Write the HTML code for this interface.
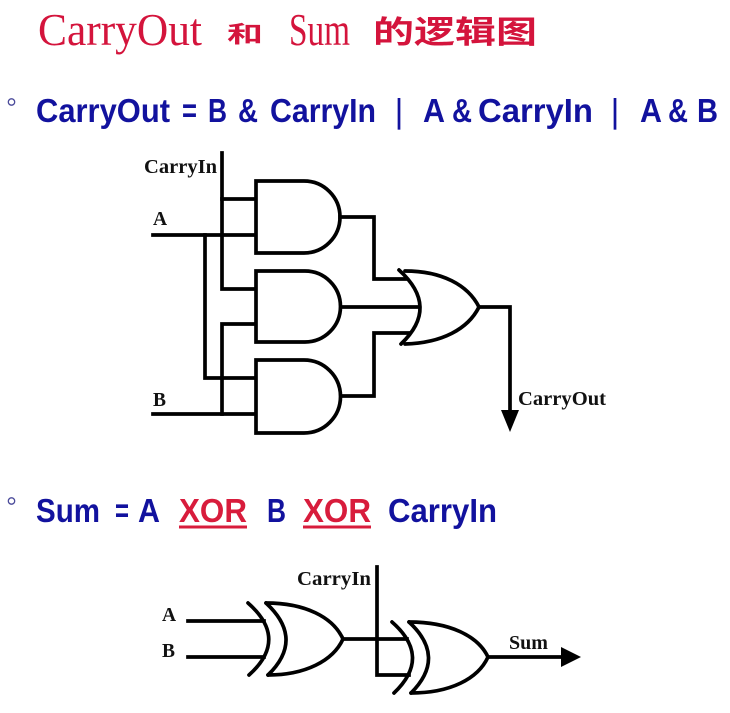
<!DOCTYPE html>
<html>
<head>
<meta charset="utf-8">
<style>
  html,body{margin:0;padding:0;background:#fff;}
  svg{display:block;}
  .t{font-family:"Liberation Sans",Arial,sans-serif;font-weight:bold;font-size:33px;fill:#12129e;}
  .x{font-family:"Liberation Sans",Arial,sans-serif;font-weight:bold;font-size:33px;fill:#d81c3c;}
  .lb{font-family:"Liberation Serif","Times New Roman",serif;font-weight:bold;font-size:19.5px;fill:#111;}
  .w{fill:none;stroke:#000;stroke-width:3.7;stroke-linejoin:miter;stroke-linecap:square;}
  .g{fill:#fff;stroke:#000;stroke-width:3.7;}
  .c{fill:none;stroke:#000;stroke-width:3.7;stroke-linecap:round;}
</style>
</head>
<body>
<svg width="730" height="713" viewBox="0 0 730 713" xmlns="http://www.w3.org/2000/svg">
  <rect width="730" height="713" fill="#fff"/>

  <!-- Title -->
  <text x="38" y="45" font-family="Liberation Serif, serif" font-size="46" fill="#d4143c" textLength="164" lengthAdjust="spacingAndGlyphs">CarryOut</text>
  <text x="227" y="42" font-family="Liberation Sans, Noto Sans CJK SC, sans-serif" font-weight="bold" font-size="23" fill="#d4143c" textLength="36" lengthAdjust="spacingAndGlyphs">和</text>
  <text x="289" y="45" font-family="Liberation Serif, serif" font-size="46" fill="#d4143c" textLength="61" lengthAdjust="spacingAndGlyphs">Sum</text>
  <text x="373" y="43" font-family="Liberation Sans, Noto Sans CJK SC, sans-serif" font-weight="bold" font-size="31" fill="#d4143c" textLength="164" lengthAdjust="spacingAndGlyphs">的逻辑图</text>

  <!-- Line 1 -->
  <circle cx="11.5" cy="102" r="3.2" fill="none" stroke="#4a4a9a" stroke-width="1.3"/>
  <text class="t" x="36" y="122" textLength="134" lengthAdjust="spacingAndGlyphs">CarryOut</text>
  <text class="t" x="182" y="122" textLength="15" lengthAdjust="spacingAndGlyphs">=</text>
  <text class="t" x="208" y="122" textLength="19" lengthAdjust="spacingAndGlyphs">B</text>
  <text class="t" x="238" y="122" textLength="20" lengthAdjust="spacingAndGlyphs">&amp;</text>
  <text class="t" x="270" y="122" textLength="106" lengthAdjust="spacingAndGlyphs">CarryIn</text>
  <text class="t" x="396" y="122" textLength="6" lengthAdjust="spacingAndGlyphs">|</text>
  <text class="t" x="423" y="122" textLength="22" lengthAdjust="spacingAndGlyphs">A</text>
  <text class="t" x="452" y="122" textLength="20" lengthAdjust="spacingAndGlyphs">&amp;</text>
  <text class="t" x="478" y="122" textLength="115" lengthAdjust="spacingAndGlyphs">CarryIn</text>
  <text class="t" x="612" y="122" textLength="6" lengthAdjust="spacingAndGlyphs">|</text>
  <text class="t" x="640" y="122" textLength="22" lengthAdjust="spacingAndGlyphs">A</text>
  <text class="t" x="668" y="122" textLength="20" lengthAdjust="spacingAndGlyphs">&amp;</text>
  <text class="t" x="697" y="122" textLength="21" lengthAdjust="spacingAndGlyphs">B</text>

  <!-- Top circuit wires -->
  <path class="w" d="M222,153 V289 H256"/>
  <path class="w" d="M222,199 H256"/>
  <path class="w" d="M153,235 H256"/>
  <path class="w" d="M205,235 V378 H256"/>
  <path class="w" d="M153,414 H256"/>
  <path class="w" d="M222,414 V324 H256"/>

  <!-- AND gates -->
  <path class="g" d="M256,181 H304 A36,36 0 0 1 304,253 H256 Z"/>
  <path class="g" d="M256,271 H305 A35.5,35.5 0 0 1 305,342 H256 Z"/>
  <path class="g" d="M256,360 H304 A36.5,36.5 0 0 1 304,433 H256 Z"/>

  <!-- AND outputs to OR -->
  <path class="w" d="M340,217 H374 V279 H408"/>
  <path class="w" d="M341,307 H418"/>
  <path class="w" d="M341,396 H374 V333 H410"/>

  <!-- OR gate -->
  <path d="M401,271 C440,271 468,285 479,307 C468,329 440,343 402,344 Q440,307 401,271 Z" fill="#fff" stroke="none"/>
  <path class="c" d="M405,271 C442,271 468,285 479,307 C468,329 442,343 405,344"/>
  <path class="c" d="M399,270 Q440,307 401,344"/>

  <!-- CarryOut output -->
  <path class="w" d="M479,307 H510 V412"/>
  <polygon points="501,410 519,410 510,432" fill="#000"/>

  <!-- Top labels -->
  <text class="lb" x="144" y="173" textLength="73" lengthAdjust="spacingAndGlyphs">CarryIn</text>
  <text class="lb" x="153" y="225">A</text>
  <text class="lb" x="153" y="406">B</text>
  <text class="lb" x="518" y="405" textLength="88" lengthAdjust="spacingAndGlyphs">CarryOut</text>

  <!-- Line 2 -->
  <circle cx="11.5" cy="501" r="3.2" fill="none" stroke="#4a4a9a" stroke-width="1.3"/>
  <text class="t" x="36" y="522" textLength="64" lengthAdjust="spacingAndGlyphs">Sum</text>
  <text class="t" x="115" y="522" textLength="14" lengthAdjust="spacingAndGlyphs">=</text>
  <text class="t" x="138" y="522" textLength="22" lengthAdjust="spacingAndGlyphs">A</text>
  <text class="x" x="179" y="522" textLength="68" lengthAdjust="spacingAndGlyphs">XOR</text>
  <rect x="179" y="525.5" width="68" height="3" fill="#d81c3c"/>
  <text class="t" x="267" y="522" textLength="19" lengthAdjust="spacingAndGlyphs">B</text>
  <text class="x" x="303" y="522" textLength="68" lengthAdjust="spacingAndGlyphs">XOR</text>
  <rect x="303" y="525.5" width="68" height="3" fill="#d81c3c"/>
  <text class="t" x="388" y="522" textLength="109" lengthAdjust="spacingAndGlyphs">CarryIn</text>

  <!-- Bottom circuit -->
  <path class="w" d="M188,621 H264"/>
  <path class="w" d="M188,657 H264"/>

  <!-- XOR1 -->
  <path d="M265,603 C305,603 333,617 343,639 C333,661 305,675 267,675 Q305,639 265,603 Z" fill="#fff" stroke="none"/>
  <path class="c" d="M248,603 Q289,639 249,675"/>
  <path class="c" d="M266,603 C305,603 333,617 343,639 C333,661 305,675 268,675"/>
  <path class="c" d="M266,603 Q305,639 268,675"/>

  <!-- CarryIn bottom -->
  <path class="w" d="M377,567 V675 H409"/>
  <path class="w" d="M343,639 H407"/>

  <!-- XOR2 -->
  <path d="M409,622 C450,622 478,636 488,657 C478,679 450,693 411,693 Q447,657 409,622 Z" fill="#fff" stroke="none"/>
  <path class="c" d="M392,622 Q432,657 394,693"/>
  <path class="c" d="M409,622 C450,622 478,636 488,657 C478,679 450,693 411,693"/>
  <path class="c" d="M409,622 Q447,657 411,693"/>

  <!-- Sum output -->
  <path class="w" d="M488,657 H563"/>
  <polygon points="561,647 561,667 581,657" fill="#000"/>

  <!-- Bottom labels -->
  <text class="lb" x="162" y="621">A</text>
  <text class="lb" x="162" y="657">B</text>
  <text class="lb" x="297" y="585" textLength="74" lengthAdjust="spacingAndGlyphs">CarryIn</text>
  <text class="lb" x="509" y="649" textLength="39" lengthAdjust="spacingAndGlyphs">Sum</text>
</svg>
</body>
</html>
